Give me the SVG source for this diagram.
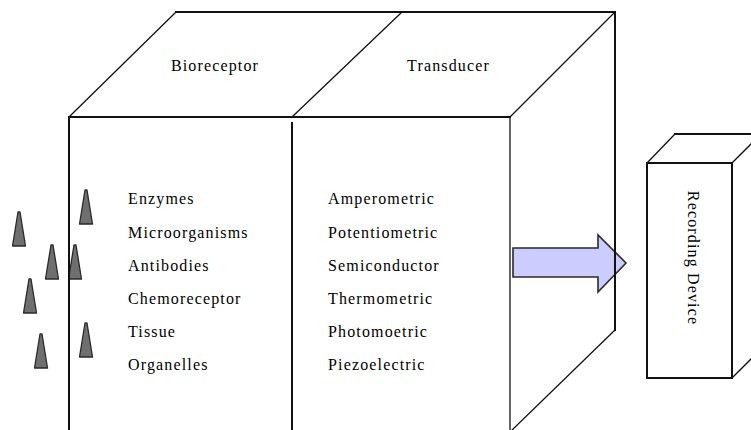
<svg xmlns="http://www.w3.org/2000/svg" width="751" height="430" viewBox="0 0 751 430">
  <style>
    .bg { fill: #ffffff; }
    .edge { fill: none; stroke: #111111; stroke-width: 2; stroke-linecap: square; stroke-linejoin: miter; }
    .thin { fill: none; stroke: #111111; stroke-width: 1.3; }
    .lbl { font-family: "Liberation Serif", "Times New Roman", serif; font-size: 16px; letter-spacing: 1.15px; fill: #000000; }
    .cone { fill: #6f6f6f; stroke: #2a2a2a; stroke-width: 1.3; stroke-linejoin: round; }
    .flow { fill: #ccccff; stroke: #2a2a2a; stroke-width: 1.6; stroke-linejoin: miter; }
  </style>
  <defs>
    <path id="cone-shape" d="M-1,0 L1,0 L6.5,34 L-6.5,34 Z"/>
  </defs>

  <rect class="bg" x="0" y="0" width="751" height="430"/>

  <!-- analytes drifting toward the bioreceptor layer -->
  <g id="analytes">
    <use href="#cone-shape" class="cone" x="86" y="190"/>
    <use href="#cone-shape" class="cone" x="19" y="212"/>
    <use href="#cone-shape" class="cone" x="52" y="245"/>
    <use href="#cone-shape" class="cone" x="75" y="245"/>
    <use href="#cone-shape" class="cone" x="30" y="279"/>
    <use href="#cone-shape" class="cone" x="86" y="323"/>
    <use href="#cone-shape" class="cone" x="41" y="334"/>
  </g>

  <!-- signal output arrow -->
  <g id="connectors">
    <path class="flow" d="M513,248 L598,248 L598,235 L626,263 L598,292 L598,277 L513,277 Z"/>
  </g>

  <!-- biosensor block: bioreceptor + transducer -->
  <g id="bioreceptor">
    <path class="thin" d="M69,117 L176,12"/>
    <path class="edge" d="M176,12 L402,12"/>
    <path class="edge" d="M69,432 L69,117 L292,117"/>
    <text class="lbl" x="215" y="71" text-anchor="middle">Bioreceptor</text>
    <text class="lbl" x="128" y="204">Enzymes</text>
    <text class="lbl" x="128" y="237.5">Microorganisms</text>
    <text class="lbl" x="128" y="271">Antibodies</text>
    <text class="lbl" x="128" y="304">Chemoreceptor</text>
    <text class="lbl" x="128" y="337">Tissue</text>
    <text class="lbl" x="128" y="370">Organelles</text>
  </g>

  <g id="transducer">
    <path class="thin" d="M292,117 L402,12"/>
    <path class="edge" d="M402,12 L615,12 L615,330"/>
    <path class="thin" d="M615,12 L510,117"/>
    <path class="thin" d="M615,330 L510,432"/>
    <path class="edge" d="M292,117 L510,117"/>
    <path class="thin" d="M510,117 L510,432"/>
    <path class="edge" d="M292,123 L292,432"/>
    <text class="lbl" x="448.5" y="71" text-anchor="middle">Transducer</text>
    <text class="lbl" x="328" y="204">Amperometric</text>
    <text class="lbl" x="328" y="237.5">Potentiometric</text>
    <text class="lbl" x="328" y="271">Semiconductor</text>
    <text class="lbl" x="328" y="304">Thermometric</text>
    <text class="lbl" x="328" y="337">Photomoetric</text>
    <text class="lbl" x="328" y="370">Piezoelectric</text>
  </g>

  <!-- recording device block -->
  <g id="recording-device">
    <path class="thin" d="M647,163 L675,134"/>
    <path class="edge" d="M675,134 L760,134"/>
    <path class="thin" d="M732,163 L761,134"/>
    <path class="thin" d="M732,378 L761,349"/>
    <rect class="edge" x="647" y="163" width="85" height="215"/>
    <text class="lbl" x="0" y="0" text-anchor="middle" transform="translate(688,258) rotate(90)">Recording Device</text>
  </g>
</svg>
